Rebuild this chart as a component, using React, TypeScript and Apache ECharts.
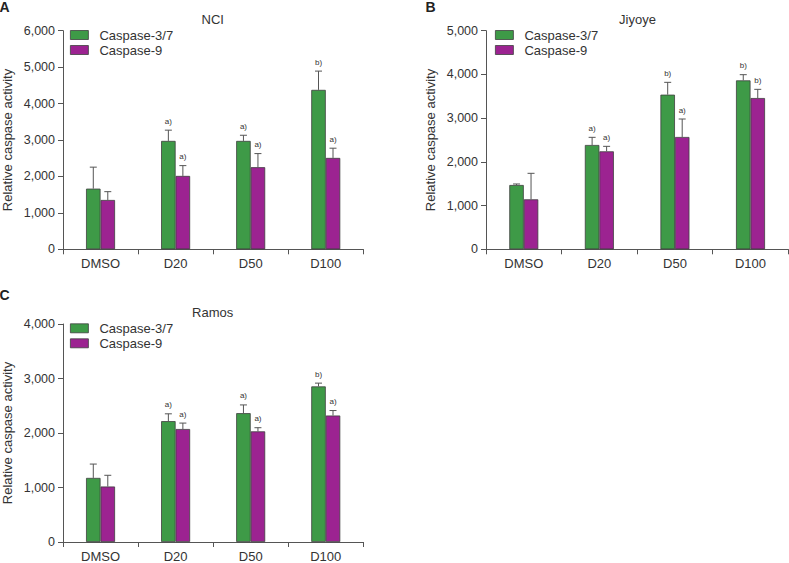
import React, { useEffect, useRef } from "react";
import * as echarts from "echarts";

const FONT = '"Liberation Sans", Arial, Helvetica, sans-serif';
const GREEN = "#3e9a47";
const PURPLE = "#9c2391";
const BORDER = "#3f3f3f";
const AXIS = "#555555";
const TEXT = "#333333";

const categories = ["DMSO", "D20", "D50", "D100"];
const seriesNames = ["Caspase-3/7", "Caspase-9"];

// Panel A: NCI
const ncI37 = [1665, 2975, 2975, 4376];
const ncI37Err = [590, 295, 155, 515];
const ncI9 = [1354, 2014, 2253, 2508];
const ncI9Err = [228, 283, 374, 267];
const ncI37Sig = ["", "a)", "a)", "b)"];
const ncI9Sig = ["", "a)", "a)", "a)"];

// Panel B: Jiyoye
const jiy37 = [1471, 2386, 3537, 3864];
const jiy37Err = [23, 175, 282, 130];
const jiy9 = [1143, 2241, 2569, 3460];
const jiy9Err = [595, 114, 411, 199];
const jiy37Sig = ["", "a)", "b)", "b)"];
const jiy9Sig = ["", "a)", "a)", "b)"];

// Panel C: Ramos
const ram37 = [1176, 2218, 2364, 2855];
const ram37Err = [254, 134, 151, 60];
const ram9 = [1018, 2073, 2030, 2321];
const ram9Err = [206, 109, 67, 91];
const ram37Sig = ["", "a)", "a)", "b)"];
const ram9Sig = ["", "a)", "a)", "a)"];

const yMaxA = 6000;
const yMaxB = 5000;
const yMaxC = 4000;
const yInterval = 1000;

const panels = [
  {
    letter: "A", title: "NCI", max: yMaxA,
    grid: { left: 61, top: 30.7, width: 302.3, height: 218.6 },
    letterPos: [4.5, 7], titlePos: [212.7, 12.5], legendPos: [70, 28.5],
    m37: ncI37, e37: ncI37Err, m9: ncI9, e9: ncI9Err, s37: ncI37Sig, s9: ncI9Sig,
  },
  {
    letter: "B", title: "Jiyoye", max: yMaxB,
    grid: { left: 486, top: 30.7, width: 302.3, height: 218.6 },
    letterPos: [430.5, 7], titlePos: [637.5, 12.5], legendPos: [495, 28.5],
    m37: jiy37, e37: jiy37Err, m9: jiy9, e9: jiy9Err, s37: jiy37Sig, s9: jiy9Sig,
  },
  {
    letter: "C", title: "Ramos", max: yMaxC,
    grid: { left: 61, top: 324, width: 302.3, height: 220 },
    letterPos: [4.5, 295], titlePos: [212.7, 306], legendPos: [70, 321.8],
    m37: ram37, e37: ram37Err, m9: ram9, e9: ram9Err, s37: ram37Sig, s9: ram9Sig,
  },
];

const BAR_W = 14.5;

function errorSeries(i: number, means: number[], errs: number[], sig: string[], offset: number) {
  return {
    type: "custom",
    name: "err" + i + offset,
    xAxisIndex: i,
    yAxisIndex: i,
    z: 5,
    silent: true,
    clip: false,
    data: categories.map((_, j) => [j, means[j], means[j] + errs[j]]),
    renderItem: (params: any, api: any) => {
      const p0 = api.coord([api.value(0), api.value(1)]);
      const p1 = api.coord([api.value(0), api.value(2)]);
      const x = p0[0] + offset;
      const style = { stroke: AXIS, lineWidth: 1 };
      const label = sig[params.dataIndex];
      return {
        type: "group",
        children: [
          { type: "line", shape: { x1: x, y1: p0[1], x2: x, y2: p1[1] }, style },
          { type: "line", shape: { x1: x - 3.5, y1: p1[1], x2: x + 3.5, y2: p1[1] }, style },
          {
            type: "text",
            x: x,
            y: p1[1] - 5,
            style: { text: label, fontSize: 8, fontFamily: FONT, fill: TEXT, align: "center", verticalAlign: "bottom" },
          },
        ],
      };
    },
  };
}

function App() {
  const ref = useRef<HTMLDivElement>(null);
  useEffect(() => {
    document.body.style.margin = "0";
    const chart = echarts.init(ref.current as HTMLDivElement, null, { renderer: "svg" });
    const fmt = (v: number) => v.toLocaleString("en-US");
    const series: any[] = [];
    panels.forEach((p, i) => {
      series.push({
        type: "bar", name: seriesNames[0], xAxisIndex: i, yAxisIndex: i, data: p.m37,
        barWidth: BAR_W, barGap: "0%",
        itemStyle: { color: GREEN, borderColor: BORDER, borderWidth: 0.8 },
      });
      series.push({
        type: "bar", name: seriesNames[1], xAxisIndex: i, yAxisIndex: i, data: p.m9,
        barWidth: BAR_W, barGap: "0%",
        itemStyle: { color: PURPLE, borderColor: BORDER, borderWidth: 0.8 },
      });
      series.push(errorSeries(i, p.m37, p.e37, p.s37, -BAR_W / 2));
      series.push(errorSeries(i, p.m9, p.e9, p.s9, BAR_W / 2));
    });
    const graphics: any[] = [];
    panels.forEach((p) => {
      graphics.push({
        type: "text", x: p.letterPos[0], y: p.letterPos[1],
        style: { text: p.letter, fontSize: 14, fontWeight: "bold", fontFamily: FONT, fill: "#222", align: "center", verticalAlign: "middle" },
      });
      graphics.push({
        type: "text", x: p.titlePos[0], y: p.titlePos[1],
        style: { text: p.title, fontSize: 13, fontFamily: FONT, fill: TEXT, align: "center", verticalAlign: "top" },
      });
    });
    const option: any = {
      animation: false,
      backgroundColor: "#ffffff",
      textStyle: { fontFamily: FONT },
      grid: panels.map((p) => ({ ...p.grid, containLabel: false })),
      legend: panels.map((p) => ({
        data: seriesNames.map((n) => ({ name: n, icon: "rect" })),
        orient: "vertical",
        left: p.legendPos[0],
        top: p.legendPos[1],
        padding: 0,
        itemWidth: 18,
        itemHeight: 9,
        itemGap: 2,
        selectedMode: false,
        itemStyle: { borderColor: BORDER, borderWidth: 0.8 },
        textStyle: { fontSize: 13, color: TEXT, fontFamily: FONT, lineHeight: 13, padding: [0, 0, 0, 6] },
      })),
      xAxis: panels.map((_, i) => ({
        type: "category",
        gridIndex: i,
        data: categories,
        axisLine: { lineStyle: { color: AXIS, width: 1 } },
        axisTick: { show: true, length: 5, lineStyle: { color: AXIS } },
        axisLabel: { fontSize: 13, color: TEXT, margin: 8, fontFamily: FONT },
        splitLine: { show: false },
      })),
      yAxis: panels.map((p, i) => ({
        type: "value",
        gridIndex: i,
        min: 0,
        max: p.max,
        interval: yInterval,
        name: "Relative caspase activity",
        nameLocation: "middle",
        nameGap: 49,
        nameTextStyle: { fontSize: 13, color: TEXT, fontFamily: FONT },
        axisLine: { show: true, lineStyle: { color: AXIS, width: 1 } },
        axisTick: { show: true, length: 5, lineStyle: { color: AXIS } },
        axisLabel: { fontSize: 12.5, color: TEXT, margin: 8, fontFamily: FONT, formatter: fmt },
        splitLine: { show: false },
      })),
      series,
      graphic: graphics,
    };
    chart.setOption(option);
    return () => chart.dispose();
  }, []);
  return <div ref={ref} style={{ width: 789, height: 563 }} />;
}

export default App;
